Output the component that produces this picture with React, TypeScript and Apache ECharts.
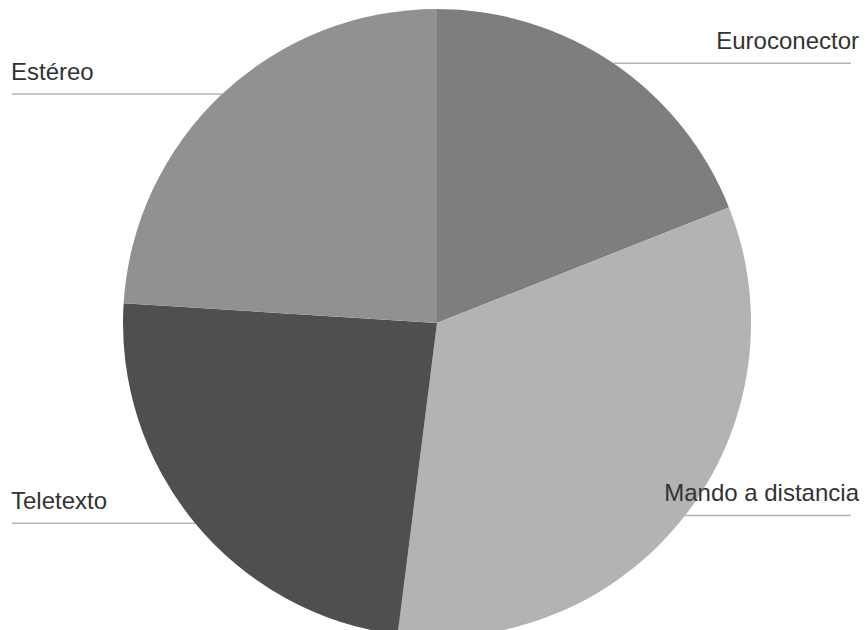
import React, { useEffect, useRef } from "react";
import * as echarts from "echarts";

const categories = ["Euroconector", "Mando a distancia", "Teletexto", "Estéreo"];
const values = [19, 33, 24, 24];
const colors = ["#7e7e7e", "#b3b3b3", "#4f4f4f", "#919191"];

export default function App() {
  const ref = useRef<HTMLDivElement>(null);
  useEffect(() => {
    if (!ref.current) return;
    const chart = echarts.init(ref.current, undefined, { renderer: "svg" });
    const W = 865;
    const cx = 437;
    chart.setOption({
      animation: false,
      backgroundColor: "#ffffff",
      series: [
        {
          type: "pie",
          center: [cx, 323],
          radius: 314,
          startAngle: 90,
          clockwise: true,
          avoidLabelOverlap: false,
          data: categories.map((name, i) => ({
            name,
            value: values[i],
            itemStyle: { color: colors[i] },
          })),
          itemStyle: { borderWidth: 0 },
          label: {
            show: true,
            position: "outer",
            formatter: "{b}",
            fontSize: 24,
            fontFamily: "'Liberation Sans', Arial, sans-serif",
            color: "#333333",
          },
          labelLine: {
            show: true,
            length: 0,
            length2: 0,
            lineStyle: { color: "#b5b5b5", width: 1.5 },
          },
          labelLayout: (params: any) => {
            const pts = params.labelLinePoints;
            if (!pts) return {};
            const x0 = pts[0][0];
            const y0 = pts[0][1];
            const isLeft = x0 < cx;
            const textX = isLeft ? 11 : W - 6;
            const lineEnd = isLeft ? 12 : W - 14;
            return {
              x: textX,
              y: y0 - 23,
              align: isLeft ? "left" : "right",
              verticalAlign: "middle",
              labelLinePoints: [
                [x0, y0],
                [x0, y0],
                [lineEnd, y0],
              ],
            };
          },
        },
      ],
    });
    return () => chart.dispose();
  }, []);
  return (
    <div
      ref={ref}
      style={{ position: "absolute", left: 0, top: 0, width: 865, height: 630 }}
    />
  );
}
